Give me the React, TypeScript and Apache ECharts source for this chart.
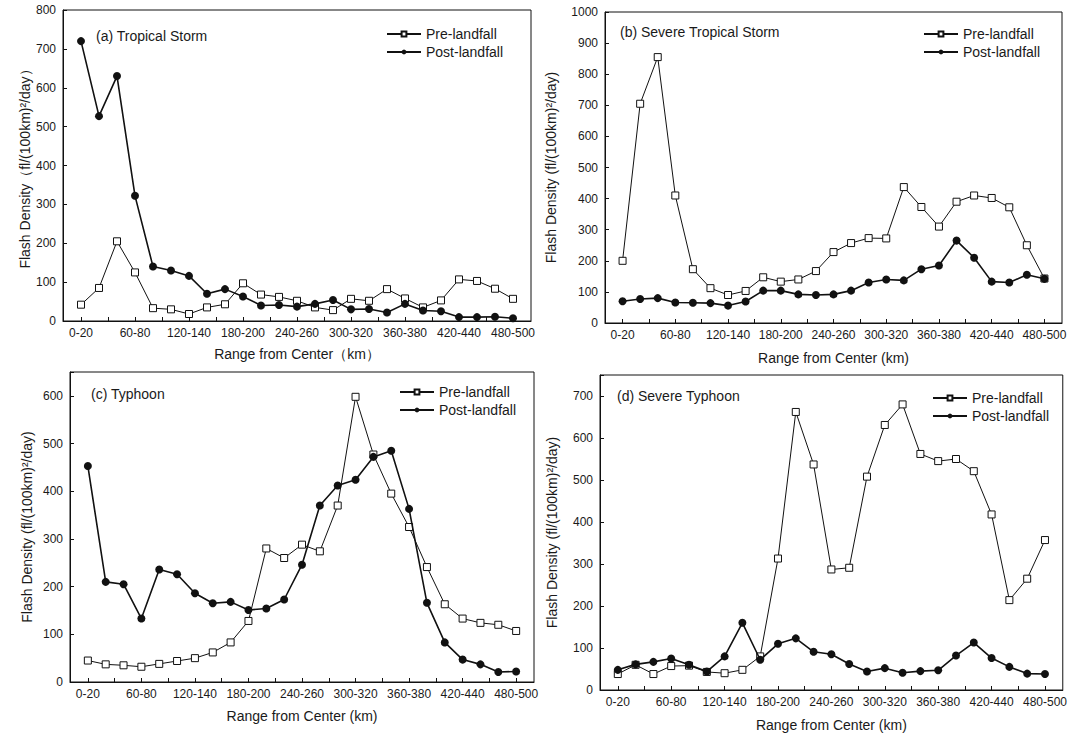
import React, { useEffect, useRef } from "react";
import * as echarts from "echarts";

const categories = [
  "0-20", "20-40", "40-60", "60-80", "80-100", "100-120", "120-140", "140-160",
  "160-180", "180-200", "200-220", "220-240", "240-260", "260-280", "280-300",
  "300-320", "320-340", "340-360", "360-380", "380-400", "400-420", "420-440",
  "440-460", "460-480", "480-500",
];

const preA = [42, 85, 205, 125, 33, 30, 18, 35, 43, 97, 68, 62, 52, 35, 28, 57, 52, 82, 58, 35, 53, 107, 103, 83, 57];
const postA = [720, 527, 630, 322, 140, 130, 116, 70, 82, 63, 40, 41, 37, 44, 54, 30, 31, 22, 44, 27, 25, 10, 10, 11, 7];

const preB = [200, 705, 855, 410, 173, 112, 90, 103, 147, 133, 140, 167, 228, 257, 273, 272, 437, 373, 310, 390, 410, 402, 372, 250, 143];
const postB = [70, 77, 80, 66, 65, 64, 56, 69, 104, 104, 92, 90, 92, 104, 130, 140, 137, 173, 185, 265, 210, 133, 130, 155, 142];

const preC = [45, 37, 35, 32, 38, 44, 50, 62, 83, 128, 280, 260, 288, 274, 370, 598, 477, 395, 325, 241, 163, 133, 124, 120, 107];
const postC = [453, 210, 205, 133, 236, 226, 186, 165, 168, 151, 154, 173, 246, 370, 412, 424, 472, 485, 363, 166, 83, 47, 37, 21, 22];

const preD = [38, 60, 38, 57, 58, 43, 40, 48, 80, 313, 662, 537, 287, 291, 508, 631, 680, 562, 545, 550, 521, 418, 214, 265, 357];
const postD = [48, 61, 67, 75, 60, 44, 80, 160, 72, 110, 123, 91, 85, 62, 44, 52, 41, 45, 47, 82, 113, 76, 55, 39, 38];

const panelTitles = ["(a) Tropical Storm", "(b) Severe Tropical Storm", "(c) Typhoon", "(d) Severe Typhoon"];
const yNames = [
  "Flash Density（fl/(100km)²/day）",
  "Flash Density (fl/(100km)²/day)",
  "Flash Density (fl/(100km)²/day)",
  "Flash Density (fl/(100km)²/day)",
];
const xNames = ["Range from Center（km）", "Range from Center (km)", "Range from Center (km)", "Range from Center (km)"];
const yMax = [800, 1000, 650, 750];
const seriesNames = ["Pre-landfall", "Post-landfall"];

const FONT = "Liberation Sans, Arial, sans-serif";
const TXT = "#1a1a1a";

// half-step slots: data point i sits at slot 2*i+2, with one empty category of padding each side
const SLOTS = categories.length * 2 + 3;
const slotData = Array.from({ length: SLOTS }, (_, s) =>
  s >= 2 && s <= SLOTS - 3 && s % 2 === 0 ? categories[(s - 2) / 2] : ""
);

const grids = [
  { left: 63, top: 10, width: 468, height: 311 },
  { left: 605, top: 12, width: 457, height: 311 },
  { left: 70, top: 372, width: 464, height: 310 },
  { left: 600, top: 375, width: 463, height: 315 },
];
const yNameGaps = [31, 47, 36, 41];
const xNameGaps = [26, 28, 27, 28];
const titlePos = [
  { left: 96, top: 29 },
  { left: 620, top: 25 },
  { left: 91, top: 387 },
  { left: 617, top: 389 },
];
const legendPos = [
  { left: 386, top: 27 },
  { left: 923, top: 27 },
  { left: 399, top: 385 },
  { left: 932, top: 391 },
];

const pres = [preA, preB, preC, preD];
const posts = [postA, postB, postC, postD];

export default function App() {
  const ref = useRef<HTMLDivElement>(null);
  useEffect(() => {
    if (!ref.current) return;
    const chart = echarts.init(ref.current, undefined, { renderer: "svg" });
    const toPairs = (arr: number[]) => arr.map((v, i) => [2 * i + 2, v]);
    const series: any[] = [];
    for (let k = 0; k < 4; k++) {
      series.push({
        name: seriesNames[0],
        type: "line",
        xAxisIndex: k,
        yAxisIndex: k,
        data: toPairs(pres[k]),
        symbol: "rect",
        symbolSize: 7,
        showAllSymbol: true,
        lineStyle: { color: "#111", width: 1 },
        itemStyle: { color: "#fff", borderColor: "#111", borderWidth: 1 },
        z: 2,
      });
      series.push({
        name: seriesNames[1],
        type: "line",
        xAxisIndex: k,
        yAxisIndex: k,
        data: toPairs(posts[k]),
        symbol: "circle",
        symbolSize: 8,
        showAllSymbol: true,
        lineStyle: { color: "#111", width: 1.6 },
        itemStyle: { color: "#111", borderColor: "#111", borderWidth: 0 },
        z: 3,
      });
    }
    chart.setOption({
      animation: false,
      backgroundColor: "#fff",
      textStyle: { fontFamily: FONT, color: TXT },
      grid: grids.map((g) => ({ ...g, show: true, borderColor: "#111", borderWidth: 1, backgroundColor: "transparent" })),
      title: panelTitles.map((t, k) => ({
        text: t,
        left: titlePos[k].left,
        top: titlePos[k].top,
        padding: 0,
        textStyle: { fontFamily: FONT, fontSize: 14, fontWeight: "normal", color: TXT },
      })),
      legend: legendPos.map((p) => ({
        data: seriesNames,
        orient: "vertical",
        left: p.left,
        top: p.top,
        padding: 0,
        itemWidth: 34,
        itemHeight: 6,
        itemGap: 4,
        selectedMode: false,
        textStyle: { fontFamily: FONT, fontSize: 14, color: TXT, padding: [0, 0, 0, 0] },
      })),
      xAxis: grids.map((_, k) => ({
        type: "category",
        gridIndex: k,
        data: slotData,
        boundaryGap: false,
        name: xNames[k],
        nameLocation: "middle",
        nameGap: xNameGaps[k],
        nameTextStyle: { fontFamily: FONT, fontSize: 14, color: TXT },
        axisLine: { lineStyle: { color: "#111", width: 1 } },
        axisTick: {
          inside: true,
          length: 4,
          interval: (idx: number) => idx >= 2 && (idx - 2) % 3 === 0 && idx <= SLOTS - 3,
          lineStyle: { color: "#111" },
        },
        axisLabel: {
          interval: (idx: number) => idx >= 2 && (idx - 2) % 6 === 0,
          fontFamily: FONT,
          fontSize: 12,
          color: TXT,
          margin: 6,
        },
        splitLine: { show: false },
      })),
      yAxis: grids.map((_, k) => ({
        type: "value",
        gridIndex: k,
        min: 0,
        max: yMax[k],
        interval: 100,
        name: yNames[k],
        nameLocation: "middle",
        nameGap: yNameGaps[k],
        nameRotate: 90,
        nameTextStyle: { fontFamily: FONT, fontSize: 14, color: TXT },
        axisLine: { show: true, lineStyle: { color: "#111", width: 1 } },
        axisTick: { show: true, inside: true, length: 4, lineStyle: { color: "#111" } },
        axisLabel: {
          fontFamily: FONT,
          fontSize: 12,
          color: TXT,
          margin: 7,
          formatter: (v: number) => (v % 100 === 0 ? String(v) : ""),
        },
        splitLine: { show: false },
      })),
      graphic: [
        {
          type: "rect",
          shape: { x: 0, y: 362, width: 560, height: 8 },
          style: { fill: "#fff" },
          z: 100,
        },
      ],
      series,
    });
    return () => chart.dispose();
  }, []);
  return (
    <div
      ref={ref}
      style={{ position: "fixed", left: 0, top: 0, width: 1070, height: 738, background: "#fff" }}
    />
  );
}
